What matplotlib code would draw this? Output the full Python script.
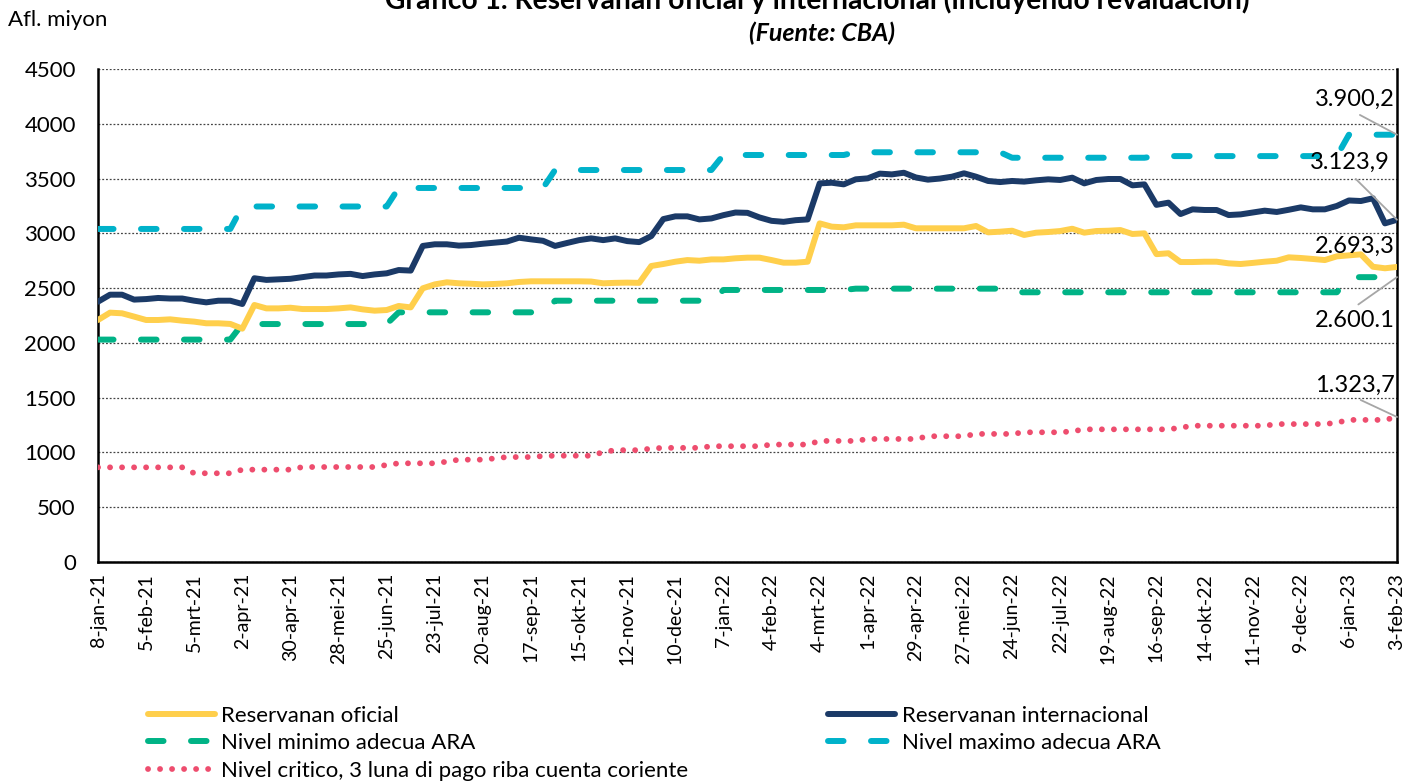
import matplotlib
matplotlib.use("Agg")
import matplotlib.pyplot as plt
import numpy as np

plt.rcParams['font.family'] = ['Lato', 'DejaVu Sans']

tick_labels = ["8-jan-21", "5-feb-21", "5-mrt-21", "2-apr-21", "30-apr-21", "28-mei-21",
               "25-jun-21", "23-jul-21", "20-aug-21", "17-sep-21", "15-okt-21", "12-nov-21",
               "10-dec-21", "7-jan-22", "4-feb-22", "4-mrt-22", "1-apr-22", "29-apr-22",
               "27-mei-22", "24-jun-22", "22-jul-22", "19-aug-22", "16-sep-22", "14-okt-22",
               "11-nov-22", "9-dec-22", "6-jan-23", "3-feb-23"]

reservas_oficial = [2209, 2276, 2270, 2240, 2209, 2209, 2215, 2203, 2194, 2179, 2179, 2173, 2130,
                    2346, 2315, 2315, 2321, 2309, 2309, 2309, 2315, 2324, 2306, 2294, 2300, 2337, 2324,
                    2498, 2534, 2553, 2544, 2540, 2534, 2538, 2544, 2556, 2562, 2562, 2562, 2562, 2562,
                    2560, 2544, 2548, 2550, 2548,
                    2702, 2720, 2741, 2756, 2750, 2762, 2762, 2772, 2778, 2778, 2756, 2732, 2732, 2741,
                    3091, 3061, 3055, 3073, 3073, 3073, 3073, 3079, 3046, 3046, 3046, 3046, 3046, 3067,
                    3009, 3015, 3024, 2985, 3006, 3012, 3021, 3042, 3006, 3021, 3024, 3030, 2994, 3000,
                    2810, 2818, 2738, 2738, 2741, 2741, 2726, 2720, 2730, 2741, 2750, 2781, 2775, 2766,
                    2756, 2790, 2799, 2808, 2695, 2681, 2693.3]

reservas_internacional = [2376, 2440, 2440, 2395, 2400, 2410, 2405, 2405, 2385, 2370, 2385, 2385, 2355,
                          2590, 2575, 2580, 2585, 2600, 2615, 2615, 2625, 2630, 2610, 2625, 2635, 2665, 2660,
                          2885, 2900, 2900, 2888, 2893, 2905, 2915, 2925, 2960, 2945, 2932, 2885, 2912, 2938,
                          2954, 2938, 2954, 2929, 2920, 2975,
                          3130, 3155, 3155, 3127, 3136, 3166, 3190, 3187, 3145, 3114, 3105, 3120, 3127,
                          3456, 3462, 3447, 3493, 3502, 3545, 3538, 3553, 3510, 3490, 3500, 3517, 3548, 3517,
                          3478, 3468, 3478, 3472, 3484, 3493, 3487, 3508, 3456, 3487, 3496, 3496, 3438, 3447,
                          3260, 3280, 3176, 3219, 3213, 3213, 3167, 3173, 3190, 3207, 3195, 3215, 3237, 3219,
                          3219, 3250, 3300, 3295, 3320, 3091, 3123.9]

nivel_minimo = [2030, 2030, 2030, 2030, 2030, 2030, 2030, 2030, 2030, 2030, 2030, 2030,
                2172, 2172, 2172, 2172, 2172, 2172, 2172, 2172, 2172, 2172, 2172, 2172, 2172,
                2279, 2279, 2279, 2279, 2279, 2279, 2279, 2279, 2279, 2279, 2279, 2279, 2279,
                2385, 2385, 2385, 2385, 2385, 2385, 2385, 2385, 2385, 2385, 2385, 2385, 2385, 2385,
                2483, 2483, 2483, 2483, 2483, 2483, 2483, 2483, 2483, 2483, 2483,
                2495, 2495, 2495, 2495, 2495, 2495, 2495, 2495, 2495, 2495, 2495, 2495, 2495,
                2462, 2462, 2462, 2462, 2462, 2462, 2462, 2462, 2462, 2462, 2462, 2462, 2462, 2462,
                2462, 2462, 2462, 2462, 2462, 2462, 2462, 2462, 2462, 2462, 2462, 2462, 2462, 2462,
                2600, 2600, 2600, 2600, 2600.1]

nivel_maximo = [3040, 3040, 3040, 3040, 3040, 3040, 3040, 3040, 3040, 3040, 3040, 3040,
                3245, 3245, 3245, 3245, 3245, 3245, 3245, 3245, 3245, 3245, 3245, 3245, 3245,
                3414, 3414, 3414, 3414, 3414, 3414, 3414, 3414, 3414, 3414, 3414, 3414, 3414,
                3578, 3578, 3578, 3578, 3578, 3578, 3578, 3578, 3578, 3578, 3578, 3578, 3578, 3578,
                3715, 3715, 3715, 3715, 3715, 3715, 3715, 3715, 3715, 3715, 3715,
                3740, 3740, 3740, 3740, 3740, 3740, 3740, 3740, 3740, 3740, 3740, 3740, 3740,
                3690, 3690, 3690, 3690, 3690, 3690, 3690, 3690, 3690, 3690, 3690, 3690,
                3705, 3705, 3705, 3705, 3705, 3705, 3705, 3705, 3705, 3705, 3705, 3705, 3705, 3705,
                3705, 3705,
                3900, 3900, 3900, 3900, 3900.2]

nivel_critico = [864, 864, 864, 864, 864, 864, 864, 864,
                 810, 810, 810, 810,
                 843, 843, 843, 843, 843,
                 867, 867, 867, 867, 867, 867, 867,
                 886, 901, 901, 901, 901, 916, 934, 934, 934, 946, 958, 958, 958, 967,
                 970, 970, 970, 970, 1003, 1021, 1021, 1021, 1036, 1042, 1042, 1042, 1042,
                 1057, 1057, 1057, 1057, 1057, 1072, 1072, 1072, 1072,
                 1105, 1105, 1105, 1105, 1123, 1123, 1123, 1123, 1123,
                 1148, 1148, 1148, 1148, 1169, 1169, 1169, 1169, 1184, 1184, 1184, 1184, 1193,
                 1211, 1211, 1211, 1211, 1211, 1211, 1211, 1211, 1226,
                 1244, 1244, 1244, 1244, 1244, 1244, 1244,
                 1259, 1259, 1259, 1259, 1259, 1272, 1297, 1297, 1297, 1297, 1323.7]

annot_text = ["3.900,2", "3.123,9", "2.693,3", "2.600.1", "1.323,7"]

c_yellow = "#FFCF4C"
c_navy = "#1B3A67"
c_green = "#00B386"
c_cyan = "#00B2CA"
c_pink = "#EE4D6E"

x = np.arange(len(reservas_oficial))

fig = plt.figure(figsize=(14.24, 7.81), dpi=100)
ax = fig.add_axes([98 / 1424, 1 - 562 / 781, (1397 - 98) / 1424, (562 - 69) / 781])

lw = 4.3
h_of, = ax.plot(x, reservas_oficial, color=c_yellow, lw=lw, solid_capstyle='round',
                solid_joinstyle='round', label="Reservanan oficial", zorder=4)
h_in, = ax.plot(x, reservas_internacional, color=c_navy, lw=lw, solid_capstyle='round',
                solid_joinstyle='round', label="Reservanan internacional", zorder=5)
h_mi, = ax.plot(x, nivel_minimo, color=c_green, lw=lw, dashes=(2.6, 4.6), dash_capstyle='round',
                label="Nivel minimo adecua ARA", zorder=3)
h_ma, = ax.plot(x, nivel_maximo, color=c_cyan, lw=lw, dashes=(2.6, 4.6), dash_capstyle='round',
                label="Nivel maximo adecua ARA", zorder=3)
h_cr, = ax.plot(x, nivel_critico, color=c_pink, lw=4.2, dashes=(0.01, 2.05), dash_capstyle='round',
                label="Nivel critico, 3 luna di pago riba cuenta coriente", zorder=3)

ax.set_xlim(0, len(x) - 1)
ax.set_ylim(0, 4500)
ax.set_yticks(np.arange(0, 4501, 500))
ax.set_xticks(np.arange(0, len(x), 4))
ax.set_xticklabels(tick_labels, rotation=90, fontsize=14)
ax.tick_params(axis='y', labelsize=16, length=0, pad=16)
ax.tick_params(axis='x', length=0, pad=8)
ax.grid(axis='y', color='#444444', lw=0.9, linestyle=(0, (1.5, 1.5)))
ax.set_axisbelow(True)
for s in ['left', 'right', 'bottom']:
    ax.spines[s].set_color('black')
    ax.spines[s].set_linewidth(1.8)
ax.spines['top'].set_visible(False)

# end-point labels
ends = [(nivel_maximo[-1], annot_text[0], (-42, 35), (0.45, 0.0)),
        (reservas_internacional[-1], annot_text[1], (-47, 57), (0.5, 0.0)),
        (reservas_oficial[-1], annot_text[2], (-42, 21), None),
        (nivel_minimo[-1], annot_text[3], (-42, -43), (0.45, 1.0)),
        (nivel_critico[-1], annot_text[4], (-42, 32), (0.45, 0.0))]
for val, txt, off, rp in ends:
    kw = {}
    if rp is not None:
        kw['arrowprops'] = dict(arrowstyle='-', color='#A6A6A6', lw=1.3, relpos=rp,
                                shrinkA=3, shrinkB=0)
    ax.annotate(txt, xy=(len(x) - 1, val), xytext=off, textcoords='offset pixels',
                ha='center', va='center', fontsize=17, color='black', zorder=6, **kw)

fig.text(8 / 1424, 1 - 26 / 781, "Afl. miyon", fontsize=16, ha='left', va='baseline')
fig.text(817 / 1424, 1 - 9 / 781,
         "Grafico 1. Reservanan oficial y internacional (incluyendo revaluacion)",
         fontsize=20.3, fontweight='bold', ha='center', va='baseline')
fig.text(822 / 1424, 1 - 41 / 781, "(Fuente: CBA)", fontsize=18, fontweight='bold',
         fontstyle='italic', ha='center', va='baseline')

handles = [h_of, h_mi, h_cr, h_in, h_ma]
fig.legend(handles=handles, labels=[h.get_label() for h in handles],
           loc='upper left', bbox_to_anchor=(139 / 1424, 1 - 697 / 781), ncol=2,
           frameon=False, fontsize=16, handlelength=3.0, handletextpad=0.3,
           columnspacing=6.3, labelspacing=0.33, borderaxespad=0)

fig.savefig("out.png", dpi=100)
